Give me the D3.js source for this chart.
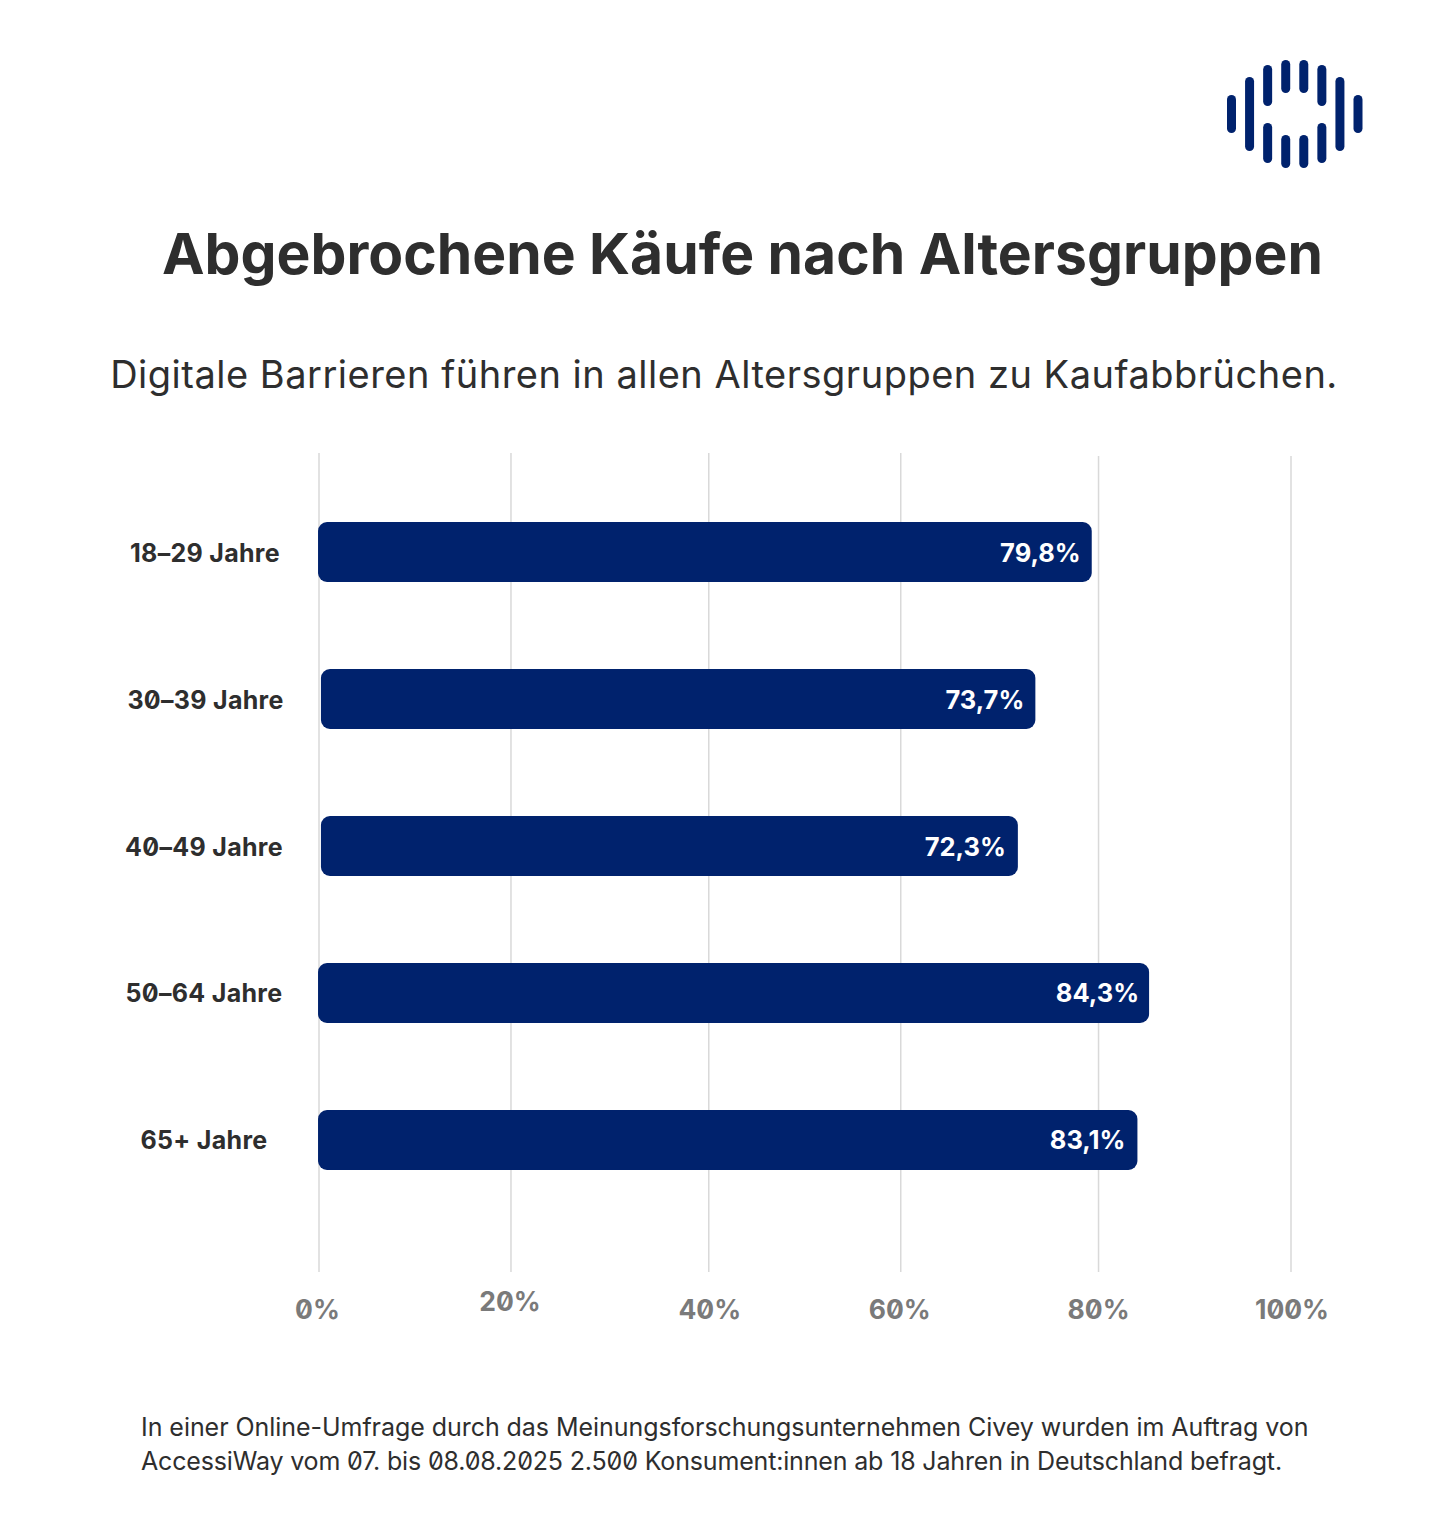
<!DOCTYPE html>
<html><head><meta charset="utf-8">
<script src="https://cdn.jsdelivr.net/npm/d3@7"></script>
<style>html,body{margin:0;background:#fff}svg{display:block}
text{font-family:Inter,"Noto Sans",sans-serif;font-feature-settings:"zero" 1;}</style>
</head><body><div id="c"></div>
<script>
const categories=["18–29 Jahre","30–39 Jahre","40–49 Jahre","50–64 Jahre","65+ Jahre"];
const labelValues=[79.8,73.7,72.3,84.3,83.1];
const barStart=[-0.1,0.2,0.2,-0.1,-0.1];
const barEnd=[79.5,73.7,71.9,85.4,84.2];
const tickValues=[0,20,40,60,80,100];
const tickDrawn=[0,19.75,40.1,59.85,80.2,100];
const gridTop=[453,453,453,453,456,456];
const tickLabelShift=[-1.5,-1,1,-1,0,1];
const tickLabelRaise=[0,8,0,0,0,0];
const catLabelShift=[0,0.5,-1,-1,-1];
const valueLabelInset=[11,11,12,10,12];
const logoHeights=[[95,133],[77,151],[65,106],[60,93],[60,93],[65,106],[77,151],[95,133]];
const logoLower=[[],[],[123,163],[135,168],[135,168],[123,163],[],[]];
const footer=["In einer Online-Umfrage durch das Meinungsforschungsunternehmen Civey wurden im Auftrag von","AccessiWay vom 07. bis 08.08.2025 2.500 Konsument:innen ab 18 Jahren in Deutschland befragt."];
const footerSpacing=[-0.05,-0.16];
const navy="#00226d",ink="#2e2e2e";
const W=1452,H=1533;
const svg=d3.select("#c").append("svg").attr("width",W).attr("height",H);
const x=d3.scaleLinear().domain([0,100]).range([319,1291]);
const y=d3.scaleBand().domain(categories).range([492.6,1199.4]).paddingInner(0.5918).paddingOuter(0.2);
const fmt=v=>String(v).replace(".",",")+"%";

// logo
const lx=d3.scaleLinear().domain([0,7]).range([1231.5,1358]);
const logo=svg.append("g").attr("fill",navy);
const segs=[];
logoHeights.forEach((s,i)=>segs.push([i,s]));
logoLower.forEach((s,i)=>{if(s.length)segs.push([i,s]);});
logo.selectAll("rect").data(segs).join("rect")
 .attr("x",d=>lx(d[0])-4.5).attr("width",9).attr("rx",4.5)
 .attr("y",d=>d[1][0]).attr("height",d=>d[1][1]-d[1][0]);

// titles
svg.append("text").attr("x",742.5).attr("y",274).attr("text-anchor","middle")
 .attr("font-size",57).attr("font-weight",700).attr("fill",ink).text("Abgebrochene Käufe nach Altersgruppen");
svg.append("text").attr("x",724).attr("y",388).attr("text-anchor","middle")
 .attr("font-size",38).attr("letter-spacing",0.5).attr("font-weight",400).attr("fill",ink).text("Digitale Barrieren führen in allen Altersgruppen zu Kaufabbrüchen.");

// grid
svg.append("g").selectAll("line").data(tickDrawn).join("line")
 .attr("x1",d=>x(d)).attr("x2",d=>x(d)).attr("y1",(d,i)=>gridTop[i]).attr("y2",1272)
 .attr("stroke","#d9d9d9").attr("stroke-width",1.5);

// tick labels
svg.append("g").selectAll("text").data(tickValues).join("text")
 .attr("x",(d,i)=>x(tickDrawn[i])+tickLabelShift[i]).attr("y",(d,i)=>1319-tickLabelRaise[i])
 .attr("text-anchor","middle").attr("font-size",26.5).attr("font-weight",700).attr("fill","#7a7a7a")
 .text(d=>d+"%");

// bars
svg.append("g").selectAll("rect").data(categories).join("rect")
 .attr("x",(d,i)=>x(barStart[i])).attr("y",d=>y(d))
 .attr("width",(d,i)=>x(barEnd[i])-x(barStart[i])).attr("height",y.bandwidth())
 .attr("rx",9).attr("fill",navy);

// category labels
svg.append("g").selectAll("text").data(categories).join("text")
 .attr("x",(d,i)=>205+catLabelShift[i]).attr("y",d=>y(d)+y.bandwidth()/2+9.5)
 .attr("text-anchor","middle").attr("font-size",25).attr("letter-spacing",0.3).attr("font-weight",700).attr("fill",ink).text(d=>d);

// value labels
svg.append("g").selectAll("text").data(categories).join("text")
 .attr("x",(d,i)=>x(barEnd[i])-valueLabelInset[i]).attr("y",d=>y(d)+y.bandwidth()/2+9.5)
 .attr("text-anchor","end").attr("font-size",25.5).attr("font-weight",700).attr("fill","#fff")
 .text((d,i)=>fmt(labelValues[i]));

// footer
svg.append("g").selectAll("text").data(footer).join("text")
 .attr("x",141).attr("y",(d,i)=>1436+i*34).attr("font-size",25).attr("letter-spacing",(d,i)=>footerSpacing[i]).attr("font-weight",400).attr("fill",ink).text(d=>d);
</script></body></html>
